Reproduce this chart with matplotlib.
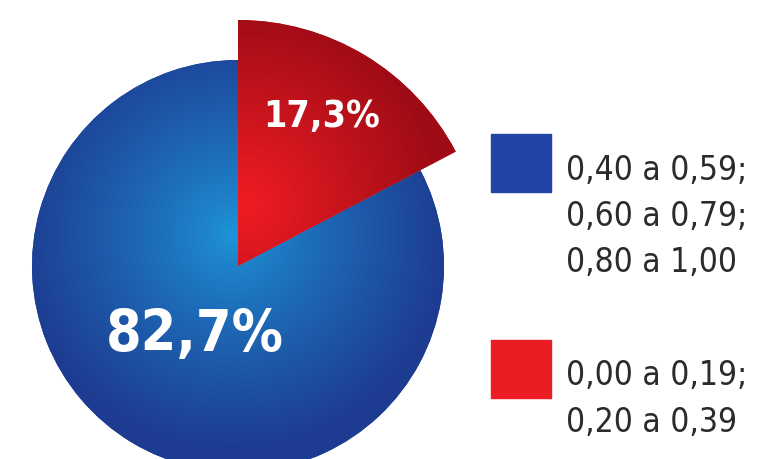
import numpy as np
import matplotlib.pyplot as plt
from matplotlib.patches import Rectangle

# pie order: red slice first (clockwise from 12 o'clock), then blue
shares = [17.3, 82.7]
share_labels = ["17,3%", "82,7%"]

# legend groups, blue listed first
legend_colors = ["#1f44a6", "#ec1c24"]
legend_ranges = [
    ["0,40 a 0,59;", "0,60 a 0,79;", "0,80 a 1,00"],
    ["0,00 a 0,19;", "0,20 a 0,39"],
]

W, H = 760, 460


def radial(cx, cy, r, inner, outer, power=1.0):
    yy, xx = np.mgrid[0:H, 0:W]
    t = np.clip(np.hypot(xx - cx, yy - cy) / r, 0, 1) ** power
    inner = np.array(inner) / 255.0
    outer = np.array(outer) / 255.0
    return inner + (outer - inner) * t[..., None]


fig = plt.figure(figsize=(W / 100, H / 100), dpi=100)
ax = fig.add_axes([0, 0, 1, 1])

wedges, _ = ax.pie(shares, startangle=90, counterclock=False,
                   center=(238, H - 267), radius=206, frame=True,
                   colors=[legend_colors[1], legend_colors[0]])
wedges[0].set_radius(246)
wedges[0].set_zorder(3)

# shading laid over each slice
blue_img = radial(232, H - 235, 215, (30, 150, 218), (30, 60, 145), 0.8)
red_img = radial(245, H - 205, 190, (240, 28, 36), (160, 12, 22), 1.0)
im = ax.imshow(blue_img, extent=(0, W, 0, H), origin="lower", zorder=2)
im.set_clip_path(wedges[1])
im = ax.imshow(red_img, extent=(0, W, 0, H), origin="lower", zorder=4)
im.set_clip_path(wedges[0])

ax.text(322, H - 117, share_labels[0], color="white", fontsize=27,
        fontweight="bold", fontstretch="condensed", family="DejaVu Sans",
        ha="center", va="center", zorder=5)
ax.text(195, H - 336, share_labels[1], color="white", fontsize=41,
        fontweight="bold", fontstretch="condensed", family="DejaVu Sans",
        ha="center", va="center", zorder=5)

# legend
box_tops = [135, 341]
for color, lines, top in zip(legend_colors, legend_ranges, box_tops):
    ax.add_patch(Rectangle((491, H - top - 58), 60, 58, color=color, zorder=2))
    for i, line in enumerate(lines):
        ax.text(566, H - (top + 35 + i * 46.5), line, color="#2b2b2b",
                fontsize=24, fontstretch="condensed", family="DejaVu Sans",
                ha="left", va="center")

ax.set_xlim(0, W)
ax.set_ylim(0, H)
ax.set_aspect("equal")
ax.axis("off")

fig.savefig("out.png", dpi=100, facecolor="white")
